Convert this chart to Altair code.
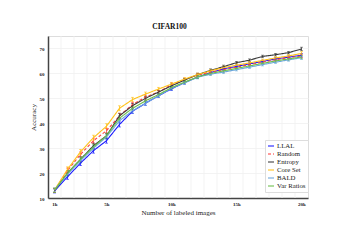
import altair as alt
import pandas as pd

X = [1000, 2000, 3000, 4000, 5000, 6000, 7000, 8000, 9000, 10000,
     11000, 12000, 13000, 14000, 15000, 16000, 17000, 18000, 19000, 20000]
METHODS = ["LLAL", "Random", "Entropy", "Core Set", "BALD", "Var Ratios"]
COLORS = ["#1a1aff", "#ff4040", "#3a3a3a", "#ffc21a", "#6aa6dc", "#6cbf4a"]
LLAL = [12.8, 18.5, 24.0, 29.0, 33.0, 39.5, 44.8, 48.0, 51.0, 53.8, 56.3, 58.5, 60.3, 61.8, 62.8, 63.8, 64.8, 65.8, 66.5, 67.3]
RANDOM = [13.0, 21.0, 27.5, 33.0, 37.0, 43.0, 47.5, 50.5, 52.5, 55.5, 57.5, 59.3, 60.5, 61.5, 62.5, 63.5, 64.5, 65.5, 66.3, 67.0]
ENTROPY = [13.0, 20.0, 25.5, 31.0, 35.0, 43.0, 47.0, 50.0, 52.5, 55.0, 57.3, 59.5, 61.2, 62.7, 64.3, 65.3, 66.8, 67.5, 68.3, 69.8]
CORESET = [13.2, 21.5, 28.5, 34.2, 38.8, 46.0, 49.5, 51.7, 53.7, 55.7, 57.7, 59.5, 61.0, 62.3, 63.3, 64.2, 65.2, 66.2, 67.0, 68.0]
BALD = [13.3, 19.5, 25.0, 30.0, 34.5, 41.0, 45.0, 48.0, 51.0, 54.0, 56.2, 58.4, 59.7, 60.5, 61.5, 62.5, 63.5, 64.5, 65.4, 66.3]
VARRATIOS = [13.1, 20.0, 25.5, 30.5, 35.0, 42.0, 46.0, 49.0, 51.5, 54.3, 56.5, 58.6, 60.0, 61.0, 62.0, 63.0, 64.0, 65.0, 65.8, 66.6]
ERR = [0.8, 1.0, 1.0, 1.0, 1.0, 1.0, 0.9, 0.8, 0.7, 0.7, 0.6, 0.6, 0.6, 0.6, 0.5, 0.5, 0.5, 0.5, 0.5, 0.7]
X_LABELS = [1000, 5000, 10000, 15000, 20000]
Y_TICKS = [10, 20, 30, 40, 50, 60, 70]
XGRID = [1500, 2500, 3500, 4500, 5500, 6500, 7500, 8500, 9500, 10500,
         11500, 12500, 13500, 14500, 15500, 16500, 17500, 18500, 19500]

SERIES = [LLAL, RANDOM, ENTROPY, CORESET, BALD, VARRATIOS]
rows = []
for m, vals in zip(METHODS, SERIES):
    for x, v, e in zip(X, vals, ERR):
        rows.append({"x": x, "acc": v, "lo": v - e, "hi": v + e, "method": m})
df = pd.DataFrame(rows)

FONT = "Liberation Serif"
xscale = alt.Scale(domain=[500, 20500], nice=False, zero=False)
yscale = alt.Scale(domain=[10, 75], nice=False, zero=False)
xaxis = alt.Axis(values=X_LABELS, labelExpr="(datum.value/1000) + 'k'",
                 grid=False, ticks=False, domainColor="#444", domainWidth=1.5,
                 labelFont=FONT, labelFontWeight="bold", labelFontSize=5,
                 labelColor="#222", labelPadding=3, labelOverlap=False,
                 title="Number of labeled images", titleFont=FONT,
                 titleFontWeight="normal", titleFontSize=7, titleColor="#222",
                 titlePadding=2)
yaxis = alt.Axis(values=Y_TICKS, grid=True, gridColor="#f0f0f0", gridWidth=0.8,
                 ticks=False, domainColor="#444", domainWidth=1.5,
                 labelFont=FONT, labelFontWeight="bold", labelFontSize=5,
                 labelColor="#222", labelPadding=4, labelOverlap=False,
                 title="Accuracy", titleFont=FONT, titleFontWeight="normal",
                 titleFontSize=7, titleColor="#222", titlePadding=3)

color = alt.Color("method:N", scale=alt.Scale(domain=METHODS, range=COLORS),
                  title=None,
                  legend=alt.Legend(orient="none", legendX=217, legendY=104,
                                    symbolType="stroke", symbolSize=36,
                                    symbolStrokeWidth=1.6, labelFont=FONT,
                                    labelFontSize=6.8, labelColor="#222",
                                    strokeColor="#dddddd", fillColor="white",
                                    padding=2, rowPadding=0, labelOffset=2,
                                    labelLimit=60))
dash = alt.StrokeDash("method:N",
                      scale=alt.Scale(domain=METHODS,
                                      range=[[1, 0], [3, 2], [1, 0], [1, 0], [1, 0], [1, 0]]),
                      title=None, legend=None)

gdf = pd.DataFrame({"g": XGRID})
grid = alt.Chart(gdf).mark_rule(color="#f0f0f0", strokeWidth=0.8).encode(
    x=alt.X("g:Q", scale=xscale, axis=xaxis))

base = alt.Chart(df)
lines = base.mark_line(strokeWidth=1.1).encode(
    x=alt.X("x:Q", scale=xscale, axis=xaxis),
    y=alt.Y("acc:Q", scale=yscale, axis=yaxis),
    color=color, strokeDash=dash)
bars = base.mark_rule(strokeWidth=0.8).encode(
    x=alt.X("x:Q", scale=xscale, axis=xaxis),
    y=alt.Y("lo:Q", scale=yscale, axis=yaxis), y2="hi:Q", color=color)
capsl = base.mark_tick(orient="horizontal", size=3, thickness=0.8).encode(
    x=alt.X("x:Q", scale=xscale, axis=xaxis),
    y=alt.Y("lo:Q", scale=yscale, axis=yaxis), color=color)
capsh = base.mark_tick(orient="horizontal", size=3, thickness=0.8).encode(
    x=alt.X("x:Q", scale=xscale, axis=xaxis),
    y=alt.Y("hi:Q", scale=yscale, axis=yaxis), color=color)

chart = alt.layer(grid, bars, capsl, capsh, lines).properties(
    width=260, height=162,
    title=alt.TitleParams("CIFAR100", font=FONT, fontSize=7.5, fontWeight="bold",
                          color="#111", anchor="middle", dx=-8.5, offset=5),
    autosize=alt.AutoSizeParams(type="none"),
    padding={"left": 40, "top": 28, "right": 23, "bottom": 26},
).configure_view(stroke=None).configure(background="white")

chart.save("out.html", embed_options={"renderer": "svg", "actions": False})
